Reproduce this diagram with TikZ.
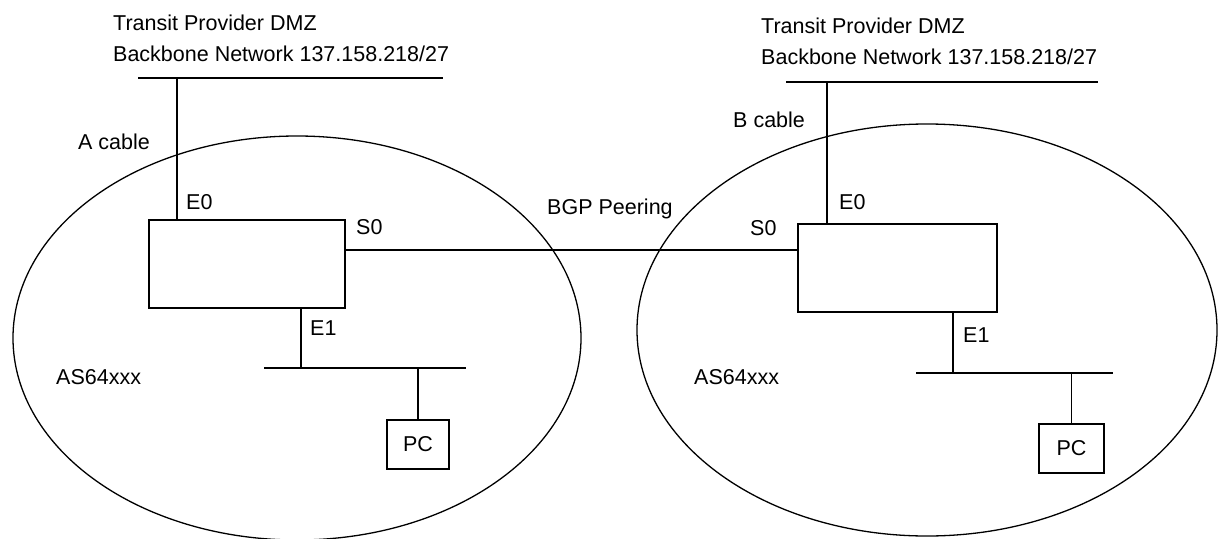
\documentclass[tikz,border=0pt]{standalone}
\usepackage{fontspec}
\setmainfont{Liberation Sans}
\usepackage{tikz}
\usetikzlibrary{shapes.geometric,calc,positioning}
\tikzset{
  lbl/.style={inner sep=0pt,anchor=west,font=\fontsize{21.5}{31}\selectfont},
  router/.style={draw=black,line width=1.6pt,minimum width=196pt,minimum height=88pt,inner sep=0pt},
  pcbox/.style={draw=black,line width=1.6pt,minimum width=62pt,minimum height=49pt,inner sep=0pt,
    font=\fontsize{21.5}{26}\selectfont},
  asarea/.style={draw=black,ellipse,line width=1.3pt,inner sep=0pt},
  wire/.style={line width=1.6pt,black}
}

\begin{document}
\begin{tikzpicture}[x=1pt,y=-1pt]
  \useasboundingbox (0,0) rectangle (1225,538);
  % autonomous systems
  \node[asarea,minimum width=568pt,minimum height=404pt] (as1) at (297,338) {};
  \node[asarea,minimum width=580pt,minimum height=412pt] (as2) at (927,330) {};
  % routers and hosts
  \node[router] (r1) at (247,264) {};
  \node[router,minimum width=199pt] (r2) at (897.5,268) {};
  \node[pcbox] (pc1) at (418,444.5) {PC};
  \node[pcbox,minimum width=65pt] (pc2) at (1071.5,448.5) {PC};
  % backbone and lan segments
  \coordinate (bb1w) at (138,78);
  \coordinate (bb1e) at (443,78);
  \coordinate (bb2w) at (786,82);
  \coordinate (bb2e) at (1098,82);
  \coordinate (tap1) at (177,78);
  \coordinate (tap2) at (827,82);
  \coordinate (lan1w) at (264,368);
  \coordinate (lan1e) at (466,368);
  \coordinate (lan2w) at (916,373);
  \coordinate (lan2e) at (1113,373);
  \coordinate (e1a) at (301,368);
  \coordinate (e1b) at (953,373);
  \coordinate (peer) at (570,250);
  \draw[wire] (bb1w) -- (bb1e);
  \draw[wire] (bb2w) -- (bb2e);
  \draw[wire] (tap1) -- (tap1 |- r1.north);
  \draw[wire] (tap2) -- (tap2 |- r2.north);
  \draw[wire] (r1.east |- peer) -- (r2.west |- peer);
  \draw[wire] (lan1w) -- (lan1e);
  \draw[wire] (lan2w) -- (lan2e);
  \draw[wire] (e1a |- r1.south) -- (e1a);
  \draw[wire] (e1b |- r2.south) -- (e1b);
  \draw[wire] (pc1.north) -- (pc1.north |- lan1w);
  \draw[wire] (pc2.north) -- (pc2.north |- lan2w);
  % labels
  \node[lbl,align=left] (dmz1) at (113,38) {Transit Provider DMZ\\Backbone Network 137.158.218/27};
  \node[lbl,align=left] (dmz2) at (761,41) {Transit Provider DMZ\\Backbone Network 137.158.218/27};
  \node[lbl] (cablea) at (78,142) {A cable};
  \node[lbl] (cableb) at (733,120) {B cable};
  \node[lbl] (e0a) at (186,202) {E0};
  \node[lbl] (e0b) at (839,202) {E0};
  \node[lbl] (s0a) at (356,227) {S0};
  \node[lbl] (s0b) at (750,228) {S0};
  \node[lbl] (bgp) at (547,209) {BGP Peering};
  \node[lbl] (e1la) at (310,328) {E1};
  \node[lbl] (e1lb) at (963,335) {E1};
  \node[lbl] (asa) at (56,377) {AS64xxx};
  \node[lbl] (asb) at (694,377) {AS64xxx};
\end{tikzpicture}
\end{document}
